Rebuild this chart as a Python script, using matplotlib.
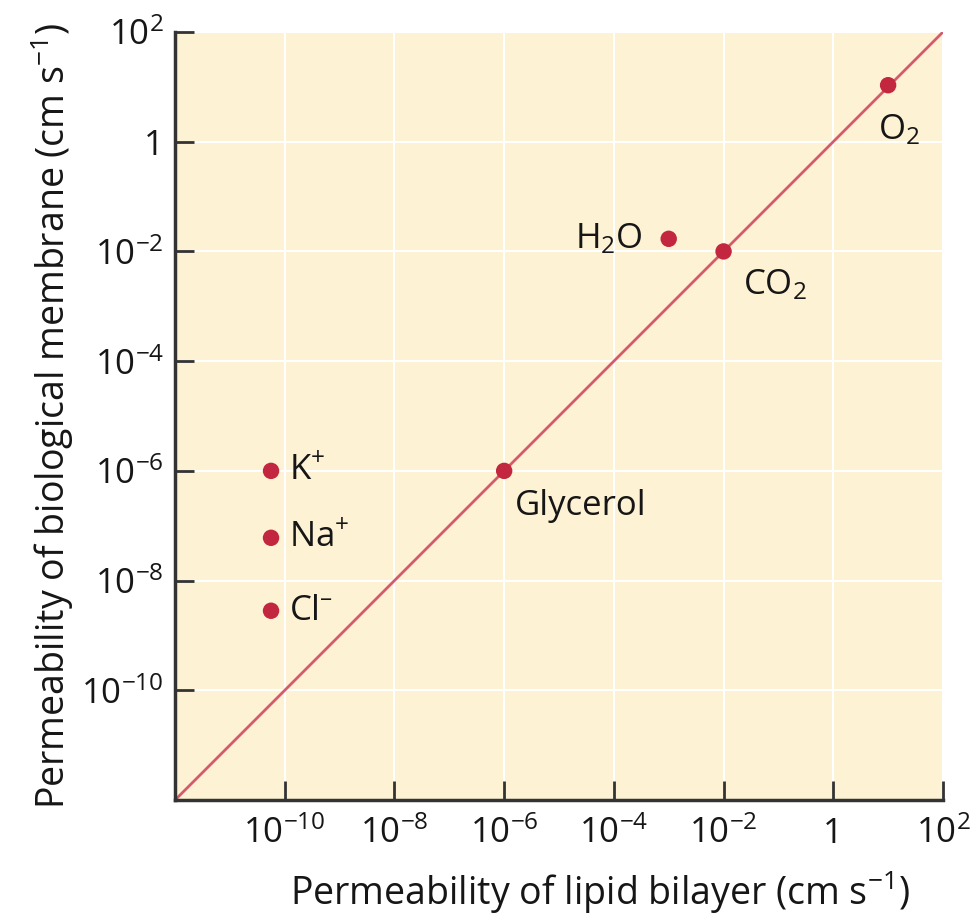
import numpy as np
import matplotlib
matplotlib.use("Agg")
import matplotlib.pyplot as plt

# Permeability values (cm/s) as log10 values
species = ['K$^{+}$', 'Na$^{+}$', 'Cl$^{\u2013}$', 'Glycerol', 'H$_2$O', 'CO$_2$', 'O$_2$']
log_bilayer = [-10.25, -10.25, -10.25, -6.0, -3.0, -2.0, 1.0]
log_membrane = [-6.0, -7.22, -8.55, -6.0, -1.77, -2.0, 1.03]

tick_exps = [-10, -8, -6, -4, -2, 0, 2]
tick_labels = ['10$^{\u221210}$', '10$^{\u22128}$', '10$^{\u22126}$', '10$^{\u22124}$',
               '10$^{\u22122}$', '1', '10$^{2}$']

# label offsets (points) and alignment for each annotation
label_pos = [(13, 0, 'left', 'center'), (13, 0, 'left', 'center'), (13, 0, 'left', 'center'),
             (8, -25, 'left', 'center'), (-19, 0, 'right', 'center'),
             (14, -24, 'left', 'center'), (-7, -32, 'left', 'center')]

plt.rcParams['font.family'] = ['Open Sans', 'DejaVu Sans']
plt.rcParams['mathtext.fontset'] = 'custom'
plt.rcParams['mathtext.rm'] = 'Open Sans'
plt.rcParams['mathtext.it'] = 'Open Sans:italic'
plt.rcParams['mathtext.default'] = 'regular'

BG = '#fef2d4'
LINE = '#d45a6c'
DOT = '#c3263f'
DARK = '#333333'
TXT = '#161616'

fig = plt.figure(figsize=(9.79, 9.22), dpi=100)
ax = fig.add_axes([0.1788, 0.1323, 0.7844, 0.833])
ax.set_facecolor(BG)

ax.set_xscale('log')
ax.set_yscale('log')
ax.set_xlim(1e-12, 1e2)
ax.set_ylim(1e-12, 1e2)

ticks = [10.0 ** e for e in tick_exps]
ax.set_xticks(ticks)
ax.set_yticks(ticks)
ax.set_xticklabels(tick_labels)
ax.set_yticklabels(tick_labels)
ax.minorticks_off()

ax.grid(True, color='white', lw=1.5, zorder=0)
ax.set_axisbelow(True)

# y = x line: equal permeability
ax.plot([1e-12, 1e2], [1e-12, 1e2], color=LINE, lw=2, zorder=2)

xs = 10.0 ** np.array(log_bilayer)
ys = 10.0 ** np.array(log_membrane)
ax.scatter(xs, ys, s=140, color=DOT, zorder=3, edgecolors='none')

for name, x, y, (dx, dy, ha, va) in zip(species, xs, ys, label_pos):
    ax.annotate(name, (x, y), xytext=(dx, dy), textcoords='offset points',
                ha=ha, va=va, fontsize=25, color=TXT)

for s in ['top', 'right']:
    ax.spines[s].set_visible(False)
for s in ['left', 'bottom']:
    ax.spines[s].set_color(DARK)
    ax.spines[s].set_linewidth(2.5)

ax.tick_params(axis='both', direction='in', length=14, width=2, color=DARK,
               labelsize=25, labelcolor=TXT)
ax.tick_params(axis='x', pad=12)
ax.tick_params(axis='y', pad=8)

ax.set_xlabel('Permeability of lipid bilayer (cm s$^{\u22121}$)', fontsize=27, color=TXT)
ax.xaxis.set_label_coords(0.553, -0.09)
ax.set_ylabel('Permeability of biological membrane (cm s$^{\u22121}$)', fontsize=27,
              labelpad=4, color=TXT)

fig.savefig('out.png', dpi=100)
